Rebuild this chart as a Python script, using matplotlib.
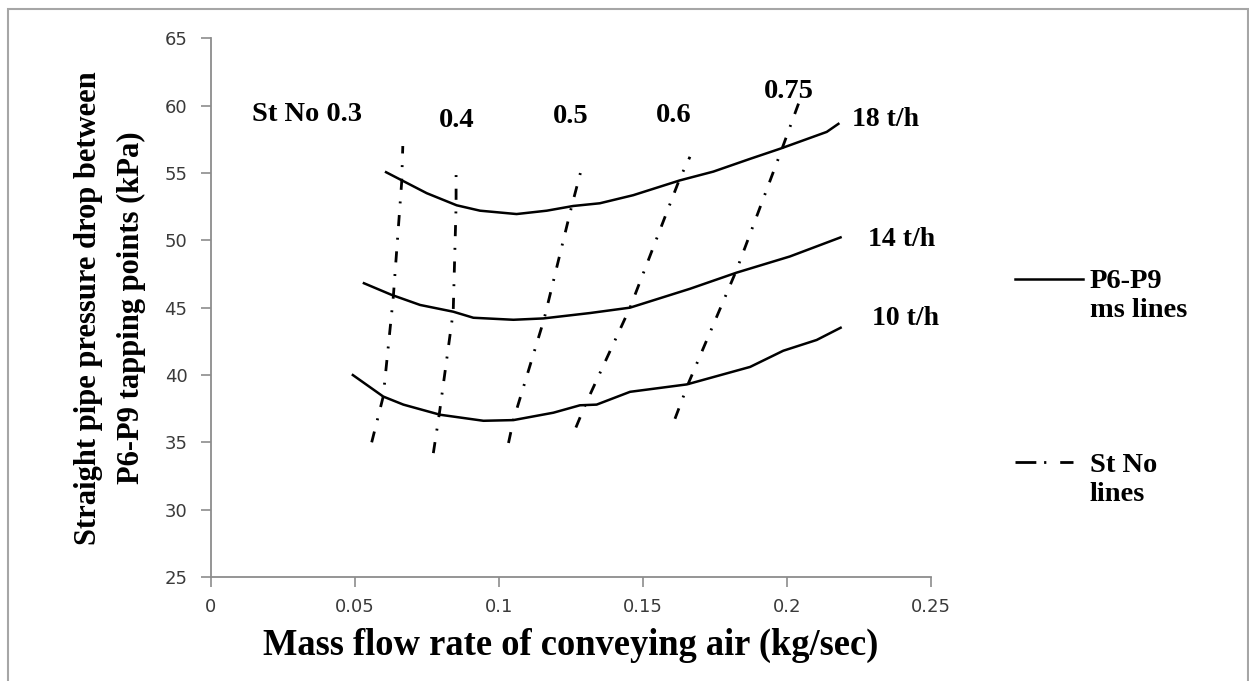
import matplotlib.pyplot as plt
from matplotlib.patches import Rectangle

# mass flow rate of air (kg/s) vs P6-P9 pressure drop (kPa), one curve per solids rate
air_18 = [0.0604, 0.0749, 0.0853, 0.0934, 0.1061, 0.1166, 0.1258, 0.1350,
          0.1466, 0.1628, 0.1744, 0.1872, 0.1976, 0.2138, 0.2182]
dp_18 = [55.1, 53.5, 52.6, 52.2, 51.95, 52.2, 52.55, 52.75,
         53.35, 54.45, 55.1, 56.05, 56.8, 58.05, 58.7]

air_14 = [0.0527, 0.0627, 0.0726, 0.0841, 0.0911, 0.1050, 0.1154, 0.1316,
          0.1455, 0.1663, 0.1825, 0.2010, 0.2190]
dp_14 = [46.85, 45.95, 45.2, 44.7, 44.25, 44.1, 44.2, 44.6,
         45.0, 46.4, 47.6, 48.8, 50.25]

air_10 = [0.0489, 0.0598, 0.0668, 0.0795, 0.0946, 0.1050, 0.1189, 0.1281,
          0.1339, 0.1455, 0.1652, 0.1872, 0.1987, 0.2103, 0.2190]
dp_10 = [40.05, 38.4, 37.8, 37.05, 36.6, 36.65, 37.2, 37.75,
         37.8, 38.75, 39.3, 40.6, 41.8, 42.6, 43.55]

ms_curves = [(air_18, dp_18, '18 t/h'), (air_14, dp_14, '14 t/h'), (air_10, dp_10, '10 t/h')]
ms_label_pos = [(0.2225, 58.98), (0.2281, 50.07), (0.2294, 44.2)]

# constant Stokes number lines
st_values = ['0.3', '0.4', '0.5', '0.6', '0.75']
st_air = [
    [0.0558, 0.0598, 0.0633, 0.0662, 0.0666],
    [0.0772, 0.0793, 0.0841, 0.0851, 0.0851],
    [0.1033, 0.1050, 0.1156, 0.1252, 0.1290],
    [0.1267, 0.1300, 0.1455, 0.1628, 0.1663],
    [0.1611, 0.1657, 0.1825, 0.1981, 0.2040],
]
st_dp = [
    [35.0, 38.4, 45.8, 54.3, 57.0],
    [34.2, 37.15, 44.7, 52.6, 55.0],
    [34.95, 36.65, 44.1, 52.5, 55.6],
    [36.1, 37.8, 45.0, 54.6, 56.2],
    [36.75, 39.35, 47.8, 56.7, 60.15],
]
st_label_pos = [(0.0142, 59.37), (0.0854, 58.92), (0.1249, 59.18), (0.1605, 59.3), (0.2005, 61.03)]

xticks = [0, 0.05, 0.1, 0.15, 0.2, 0.25]
xtick_labels = ['0', '0.05', '0.1', '0.15', '0.2', '0.25']
yticks = [25, 30, 35, 40, 45, 50, 55, 60, 65]

W, H = 1249, 681
SERIF = 'Liberation Serif'
dashdot = (0, (4, 4.2, 0.7, 4.2))

fig = plt.figure(figsize=(W / 100, H / 100), dpi=100)
ax = fig.add_axes([211 / W, 1 - 577 / H, 720 / W, (577 - 38.3) / H])

for xs, ys, name in ms_curves:
    ax.plot(xs, ys, color='black', lw=1.8, solid_capstyle='butt', solid_joinstyle='round')
for (xs, ys, name), (lx, ly) in zip(ms_curves, ms_label_pos):
    ax.text(lx, ly, name, fontfamily=SERIF, fontweight='bold', fontsize=20,
            ha='left', va='center', clip_on=False)

for xs, ys in zip(st_air, st_dp):
    ax.plot(xs, ys, color='black', lw=2.0, ls=dashdot, dash_capstyle='butt')
for i, (val, (lx, ly)) in enumerate(zip(st_values, st_label_pos)):
    txt = 'St No ' + val if i == 0 else val
    ax.text(lx, ly, txt, fontfamily=SERIF, fontweight='bold', fontsize=20.5,
            ha='left' if i == 0 else 'center', va='center')

ax.set_xlim(0, 0.25)
ax.set_ylim(25, 65)
ax.set_xticks(xticks)
ax.set_xticklabels(xtick_labels)
ax.set_yticks(yticks)
for s in ['top', 'right']:
    ax.spines[s].set_visible(False)
for s in ['left', 'bottom']:
    ax.spines[s].set_color('#8c8c8c')
    ax.spines[s].set_linewidth(1.3)
ax.tick_params(direction='out', length=7, width=1.2, color='#8c8c8c',
               labelsize=13, labelcolor='#3a3a3a')
ax.tick_params(axis='y', pad=10)
ax.tick_params(axis='x', pad=8)

ax.set_xlabel('Mass flow rate of conveying air (kg/sec)', fontfamily=SERIF,
              fontweight='bold', fontsize=26.3)
ax.xaxis.set_label_coords(0.5, -(645 - 577) / (577 - 38.3))
ax.xaxis.label.set_va('center')
ax.set_ylabel('Straight pipe pressure drop between\nP6-P9 tapping points (kPa)',
              fontfamily=SERIF, fontweight='bold', fontsize=22, linespacing=1.65)
ax.yaxis.set_label_coords(-(211 - 110) / 720, 0.5)
ax.yaxis.label.set_va('center')

# key on the right-hand side
fig.lines.append(plt.Line2D([1015 / W, 1083 / W], [1 - 279 / H] * 2,
                            transform=fig.transFigure, color='black', lw=1.8))
fig.lines.append(plt.Line2D([1015 / W, 1073 / W], [1 - 462 / H] * 2,
                            transform=fig.transFigure, color='black', lw=2.0,
                            ls=(0, (7.5, 2.8, 0.8, 5))))
fig.text(1090 / W, 1 - 296 / H, 'P6-P9\nms lines', fontfamily=SERIF,
         fontweight='bold', fontsize=20.5, va='center', linespacing=1.25)
fig.text(1090 / W, 1 - 480 / H, 'St No\nlines', fontfamily=SERIF,
         fontweight='bold', fontsize=20.5, va='center', linespacing=1.25)

# outer frame
fig.patches.append(Rectangle((8 / W, -0.05), 1240 / W, 1.05 - 9 / H,
                             transform=fig.transFigure, fill=False,
                             edgecolor='#a6a6a6', lw=1.5))

fig.savefig('out.png', dpi=100)
